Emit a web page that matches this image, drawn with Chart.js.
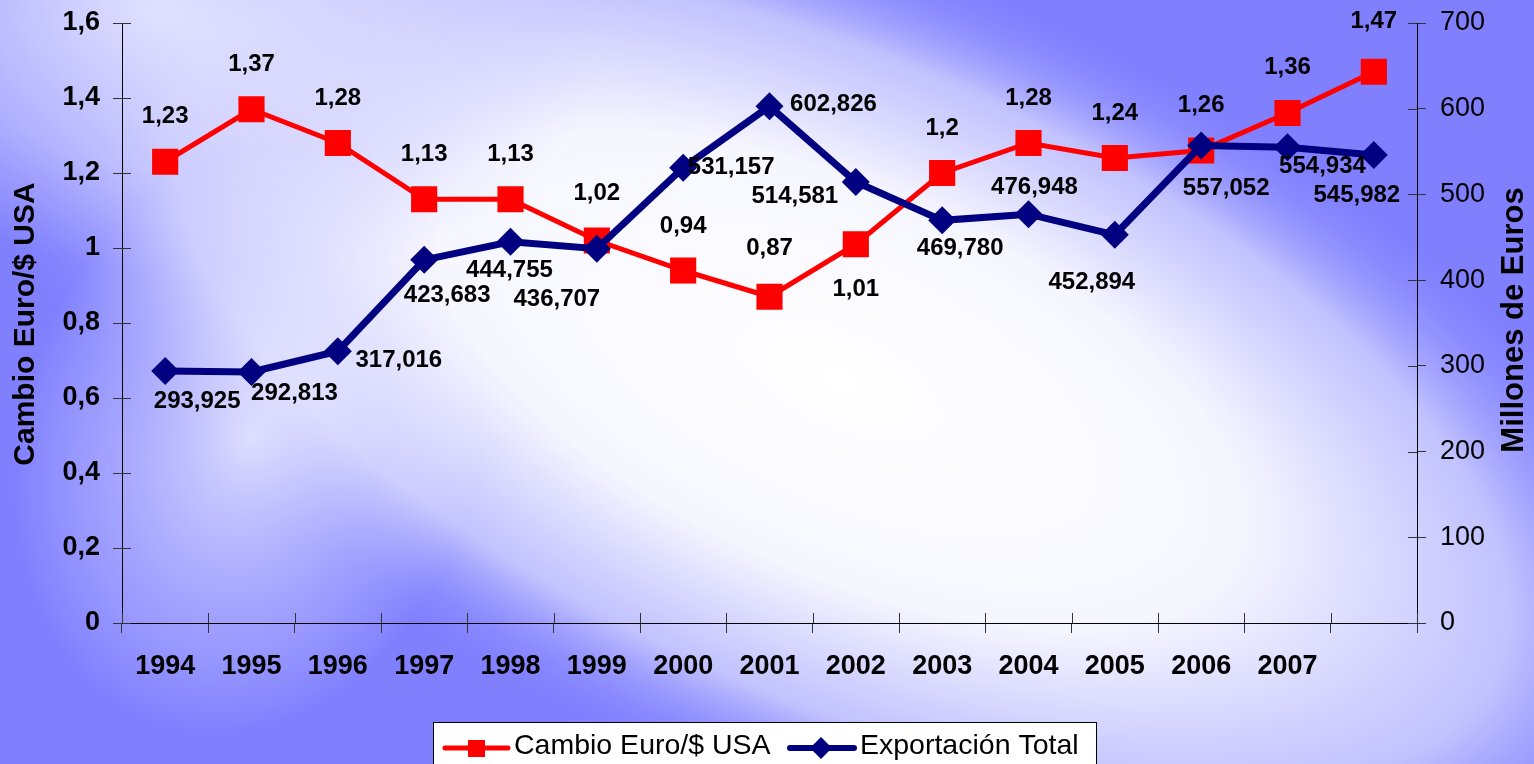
<!DOCTYPE html>
<html>
<head>
<meta charset="utf-8">
<title>Cambio Euro/$ USA y Exportación Total</title>
<script src="https://cdn.jsdelivr.net/npm/chart.js@4.4.1/dist/chart.umd.min.js"></script>
<style>
html, body { margin: 0; padding: 0; overflow: hidden; background: #8080ff; }
</style>
</head>
<body>
<canvas id="grafico" width="1534" height="764"></canvas>
<script>
var ANOS = ['1994', '1995', '1996', '1997', '1998', '1999', '2000', '2001', '2002', '2003', '2004', '2005', '2006', '2007', ''];
var CAMBIO = [1.23, 1.37, 1.28, 1.13, 1.13, 1.02, 0.94, 0.87, 1.01, 1.2, 1.28, 1.24, 1.26, 1.36, 1.47];
var EXPORTACION = [293.925, 292.813, 317.016, 423.683, 444.755, 436.707, 531.157, 602.826, 514.581, 469.780, 476.948, 452.894, 557.052, 554.934, 545.982];
var TICKS_CAMBIO = [0, 0.2, 0.4, 0.6, 0.8, 1, 1.2, 1.4, 1.6];
var TICKS_EXPORT = [0, 100, 200, 300, 400, 500, 600, 700];

// desplazamiento de las etiquetas respecto al punto (dx, dy)
var POS_CAMBIO = [[0, -45], [0, -45], [0, -45], [0, -45], [0, -45], [0, -47], [0, -44], [0, -48], [0, 45], [0, -45], [0, -45], [0, -45], [0, -45], [0, -46], [0, -50]];
var POS_EXPORT = [[32, 30], [43, 21], [61, 9], [23, 36], [-1, 29], [-40, 51], [48, 0], [64, -2], [-61, 14], [18, 28], [6, -27], [-23, 48], [25, 43], [35, 19], [-17, 40]];

var Cores = { 'rojo': '#ff0000', 'azul': '#000080', 'fondo': '#8080ff' };
var FUENTE = '"Liberation Sans", Arial, sans-serif';

var coma = function (v, dec) {
    var s = dec === undefined ? String(Number(v.toFixed(2))) : v.toFixed(dec);
    return s.replace('.', ',');
};

var brillo = function (ctx, x, y, r, sy, ang, paradas) {
    ctx.save();
    ctx.translate(x, y);
    ctx.rotate(ang);
    ctx.scale(1, sy);
    var g = ctx.createRadialGradient(0, 0, 0, 0, 0, r);
    paradas.forEach(function (p) { g.addColorStop(p[0], p[1]); });
    ctx.fillStyle = g;
    ctx.fillRect(-4000, -4000, 8000, 8000);
    ctx.restore();
};

var fondo = {
    id: 'fondo',
    beforeDraw: function (chart) {
        var ctx = chart.ctx;
        ctx.save();
        ctx.fillStyle = Cores.fondo;
        ctx.fillRect(0, 0, chart.width, chart.height);
        ctx.restore();
        brillo(ctx, 840, 380, 960, 0.44, 0.42, [[0, 'rgba(255,255,255,1)'], [0.45, 'rgba(246,246,255,1)'], [0.75, 'rgba(205,205,255,0.85)'], [1, 'rgba(128,128,255,0)']]);
        brillo(ctx, 160, 10, 440, 0.6, 0.15, [[0, 'rgba(232,232,255,0.9)'], [0.6, 'rgba(215,215,255,0.5)'], [1, 'rgba(200,200,255,0)']]);
        brillo(ctx, 250, 440, 230, 1.3, 0.3, [[0, 'rgba(255,255,255,0.7)'], [0.6, 'rgba(240,240,255,0.3)'], [1, 'rgba(255,255,255,0)']]);
    }
};

var marcas = {
    id: 'marcas',
    afterDatasetsDraw: function (chart) {
        var ctx = chart.ctx;
        var a = chart.chartArea;
        ctx.save();
        ctx.strokeStyle = '#333';
        ctx.lineWidth = 1;
        ctx.beginPath();
        TICKS_CAMBIO.forEach(function (v) {
            var y = Math.round(chart.scales.y.getPixelForValue(v)) + 0.5;
            ctx.moveTo(a.left, y); ctx.lineTo(a.left + 9, y);
        });
        TICKS_EXPORT.forEach(function (v) {
            var y = Math.round(chart.scales.y1.getPixelForValue(v)) + 0.5;
            ctx.moveTo(a.right - 9, y); ctx.lineTo(a.right, y);
        });
        for (var i = 0; i <= ANOS.length; i++) {
            var x = Math.round(chart.scales.x.getPixelForValue(i - 0.5)) + 0.5;
            ctx.moveTo(x, a.bottom - 10); ctx.lineTo(x, a.bottom);
        }
        ctx.stroke();

        // etiquetas de datos
        ctx.fillStyle = '#000';
        ctx.font = 'bold 24px ' + FUENTE;
        ctx.textAlign = 'center';
        ctx.textBaseline = 'middle';
        var m0 = chart.getDatasetMeta(0);
        m0.data.forEach(function (p, i) {
            ctx.fillText(coma(CAMBIO[i]), p.x + POS_CAMBIO[i][0], p.y + POS_CAMBIO[i][1]);
        });
        var m1 = chart.getDatasetMeta(1);
        m1.data.forEach(function (p, i) {
            ctx.fillText(coma(EXPORTACION[i], 3), p.x + POS_EXPORT[i][0], p.y + POS_EXPORT[i][1]);
        });
        ctx.restore();
    },
    afterDraw: function (chart) {
        var ctx = chart.ctx;
        ctx.save();
        ctx.fillStyle = '#000';
        ctx.font = 'bold 30px ' + FUENTE;
        ctx.textAlign = 'center';
        ctx.textBaseline = 'middle';
        ctx.translate(26, 324);
        ctx.rotate(-Math.PI / 2);
        ctx.fillText('Cambio Euro/$ USA', 0, 0);
        ctx.restore();

        ctx.save();
        ctx.fillStyle = '#000';
        ctx.font = 'bold 31px ' + FUENTE;
        ctx.textAlign = 'center';
        ctx.textBaseline = 'middle';
        ctx.translate(1514, 320);
        ctx.rotate(-Math.PI / 2);
        ctx.fillText('Millones de Euros', 0, 0);
        ctx.restore();

        // leyenda
        ctx.save();
        ctx.fillStyle = '#fff';
        ctx.strokeStyle = '#000';
        ctx.lineWidth = 1;
        ctx.fillRect(433, 722, 663, 50);
        ctx.strokeRect(433.5, 722.5, 663, 50);
        ctx.lineCap = 'round';
        ctx.strokeStyle = Cores.rojo;
        ctx.lineWidth = 5;
        ctx.beginPath(); ctx.moveTo(445, 748); ctx.lineTo(508, 748); ctx.stroke();
        ctx.fillStyle = Cores.rojo;
        ctx.fillRect(468, 740, 17, 17);
        ctx.strokeStyle = Cores.azul;
        ctx.lineWidth = 6;
        ctx.beginPath(); ctx.moveTo(790, 748); ctx.lineTo(854, 748); ctx.stroke();
        ctx.fillStyle = Cores.azul;
        ctx.beginPath();
        ctx.moveTo(821, 737); ctx.lineTo(832, 748); ctx.lineTo(821, 759); ctx.lineTo(810, 748);
        ctx.closePath(); ctx.fill();
        ctx.fillStyle = '#000';
        ctx.font = '28.5px ' + FUENTE;
        ctx.textBaseline = 'middle';
        ctx.fillText('Cambio Euro/$ USA', 514, 746);
        ctx.fillText('Exportación Total', 860, 746);
        ctx.restore();
    }
};

var ejeY = function (pos, lista, ancho, fuente, pad) {
    return {
        position: pos,
        min: lista[0],
        max: lista[lista.length - 1],
        afterBuildTicks: function (s) {
            s.ticks = lista.map(function (v) { return { value: v }; });
        },
        afterFit: function (s) {
            s.width = ancho;
            s.paddingTop = 0;
            s.paddingBottom = 0;
        },
        grid: { drawOnChartArea: false, tickLength: 9, color: '#333' },
        border: { color: '#000', width: 1 },
        ticks: {
            color: '#000',
            font: fuente,
            padding: pad,
            callback: function (v) { return coma(v); }
        }
    };
};

var ctx = document.getElementById('grafico').getContext('2d');
window.Grafico = new Chart(ctx, {
    type: 'line',
    data: {
        labels: ANOS,
        datasets: [{
            label: 'Cambio Euro/$ USA',
            data: CAMBIO,
            yAxisID: 'y',
            order: 1,
            borderColor: Cores.rojo,
            backgroundColor: Cores.rojo,
            borderWidth: 5,
            pointStyle: 'rect',
            pointRadius: 18.5,
            pointBorderWidth: 0,
            tension: 0
        }, {
            label: 'Exportación Total',
            data: EXPORTACION,
            yAxisID: 'y1',
            order: 0,
            borderColor: Cores.azul,
            backgroundColor: Cores.azul,
            borderWidth: 7,
            pointStyle: 'rectRot',
            pointRadius: 14,
            pointBorderWidth: 0,
            tension: 0
        }]
    },
    options: {
        responsive: false,
        animation: false,
        devicePixelRatio: 1,
        layout: { padding: { top: 23, left: 0, right: 0, bottom: 0 } },
        plugins: { legend: { display: false }, tooltip: { enabled: false } },
        scales: {
            x: {
                offset: true,
                grid: { offset: true, drawOnChartArea: false, tickLength: 10, color: '#333' },
                border: { color: '#000', width: 1 },
                ticks: { color: '#000', font: { family: FUENTE, size: 27, weight: 'bold' }, padding: 17, maxRotation: 0, autoSkip: false },
                afterFit: function (s) { s.height = 141; }
            },
            y: ejeY('left', TICKS_CAMBIO, 122, { family: FUENTE, size: 27, weight: 'bold' }, 13),
            y1: ejeY('right', TICKS_EXPORT, 117, { family: FUENTE, size: 27 }, 14)
        }
    },
    plugins: [fondo, marcas]
});
</script>
</body>
</html>
